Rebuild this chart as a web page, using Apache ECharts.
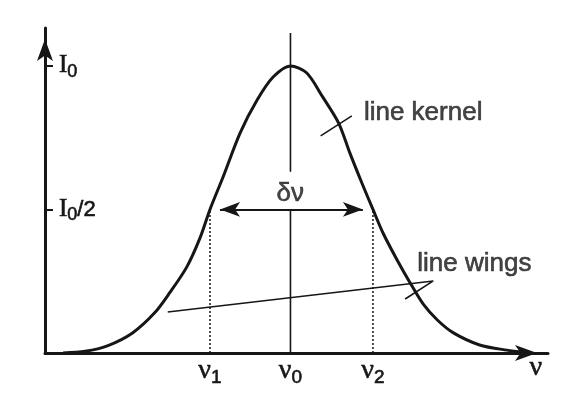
<!DOCTYPE html>
<html>
<head>
<meta charset="utf-8">
<script src="https://cdn.jsdelivr.net/npm/echarts@6/dist/echarts.min.js"></script>
<style>
  html, body { margin: 0; background: #fff; }
  #chart { width: 578px; height: 396px; }
</style>
</head>
<body>
<div id="chart"></div>
<script>
// line profile (x in arbitrary frequency units, y in units of I0)
const profileX = [1.8, 4.0, 6.2, 8.7, 10.9, 12.4, 14.1, 15.4, 16.4, 17.7, 19.4, 21.1, 22.7, 24.4,
  26.0, 27.6, 29.2, 30.3, 31.5, 32.6, 33.6, 35.0, 36.3, 37.6, 39.0, 40.6, 43.2, 45.9, 47.7];
const profileY = [0, 0.006, 0.025, 0.07, 0.14, 0.21, 0.300, 0.400, 0.500, 0.613, 0.767, 0.882, 0.962, 1.0,
  0.976, 0.892, 0.800, 0.697, 0.592, 0.500, 0.418, 0.324, 0.244, 0.170, 0.115, 0.070, 0.028, 0.010, 0.003];

const nu1 = 16.4;
const nu0 = 24.4;
const nu2 = 32.6;
const halfMax = 0.5;

const xTicks = [nu1, nu0, nu2, 48.8];
const xTickLabels = ["{n|ν}{s|1}", "{n|ν}{s|0}", "{n|ν}{s|2}", "{n|ν}"];
const yTicks = [0.5, 1];
const yTickLabels = ["{i|I}{s|0}{t|/2}", "{i|I}{s|0}"];

// annotation anchors (data units)
const kernelPointer = [[27.4, 0.756], [30.5, 0.826]];
const wingsPointer = [[12.2, 0.143], [38.6, 0.251], [35.8, 0.188]];
const noteAnchors = [
  { name: "δν", value: [nu0, 0.6] },
  { name: "line kernel", value: [31.7, 0.835] },
  { name: "line wings", value: [37.0, 0.31] },
];

const ink = "#161616";
const heavy = { color: ink, textBorderColor: ink, textBorderWidth: 0.6 };
const chart = echarts.init(document.getElementById("chart"));

const thinLine = (data, extra = {}) => ({
  type: "line",
  data,
  symbol: "none",
  silent: true,
  lineStyle: { color: ink, width: 1.6, ...extra },
  z: 3,
});

chart.setOption({
  animation: false,
  backgroundColor: "#fff",
  grid: { left: 45, right: 30, top: 28, bottom: 43 },
  xAxis: {
    type: "value",
    min: 0,
    max: 50,
    splitLine: { show: false },
    axisTick: { show: false },
    axisLine: {
      lineStyle: { color: ink, width: 3 },
      symbol: ["none", "arrow"],
      symbolSize: [12, 22],
      symbolOffset: [0, -11],
    },
    axisLabel: {
      customValues: xTicks,
      margin: 1,
      formatter: (value) => xTickLabels[xTicks.indexOf(value)] || "",
      rich: {
        n: { fontFamily: "Liberation Serif", fontSize: 28, ...heavy },
        s: { fontFamily: "Liberation Sans", fontSize: 19, ...heavy, padding: [14, 0, 0, 0] },
      },
    },
  },
  yAxis: {
    type: "value",
    min: 0,
    max: 1.132,
    splitLine: { show: false },
    axisLine: {
      lineStyle: { color: ink, width: 3 },
      symbol: ["none", "arrow"],
      symbolSize: [12, 22],
      symbolOffset: [0, -11],
    },
    axisTick: {
      customValues: yTicks,
      inside: true,
      length: 8,
      lineStyle: { color: ink, width: 2 },
    },
    axisLabel: {
      customValues: yTicks,
      inside: true,
      margin: 14,
      formatter: (value) => yTickLabels[yTicks.indexOf(value)] || "",
      rich: {
        i: { fontFamily: "Liberation Serif", fontSize: 25, ...heavy },
        s: { fontFamily: "Liberation Sans", fontSize: 18, ...heavy, padding: [12, 0, 0, 0] },
        t: { fontFamily: "Liberation Sans", fontSize: 22, ...heavy },
      },
    },
  },
  series: [
    {
      name: "profile",
      type: "line",
      data: profileX.map((x, i) => [x, profileY[i]]),
      smooth: 0.3,
      symbol: "none",
      silent: true,
      lineStyle: { color: ink, width: 3 },
      z: 4,
    },
    thinLine([[nu0, 0], [nu0, halfMax]]),
    thinLine([[nu0, 0.631], [nu0, 1.115]]),
    thinLine([[nu1, 0], [nu1, halfMax]], { type: [2, 2], width: 1.5 }),
    thinLine([[nu2, 0], [nu2, halfMax]], { type: [2, 2], width: 1.5 }),
    thinLine(kernelPointer),
    thinLine(wingsPointer),
    {
      type: "line",
      data: [],
      silent: true,
      markLine: {
        silent: true,
        symbol: ["arrow", "arrow"],
        symbolSize: [11, 20],
        label: { show: false },
        lineStyle: { color: ink, width: 2, type: "solid" },
        data: [[{ coord: [nu1 + 1, halfMax] }, { coord: [nu2 - 1, halfMax] }]],
      },
    },
    {
      type: "scatter",
      data: noteAnchors,
      symbolSize: 0,
      silent: true,
      label: {
        show: true,
        formatter: "{b}",
        position: "right",
        distance: 0,
        ...heavy,
        fontFamily: "Liberation Sans",
        fontSize: 26,
      },
      labelLayout: (params) => (params.text === "δν"
        ? { x: params.rect.x - params.labelRect.width / 2, align: "left" }
        : {}),
    },
  ],
});
</script>
</body>
</html>
